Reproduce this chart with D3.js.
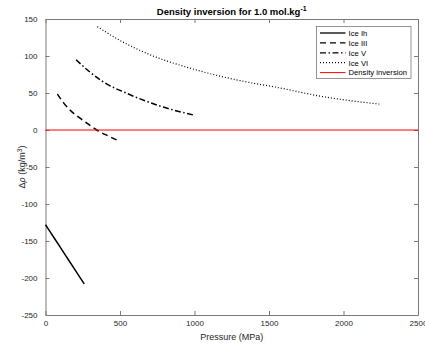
<!DOCTYPE html>
<html>
<head>
<meta charset="utf-8">
<script src="https://cdn.jsdelivr.net/npm/d3@7"></script>
<style>
  body { margin: 0; background: #fff; }
  svg { font-family: "Liberation Sans", Arial, sans-serif; }
  .axis path, .axis line { stroke: #7a7a7a; }
  .axis text { fill: #262626; font-size: 8px; }
</style>
</head>
<body>
<div id="chart"></div>
<script>
// values
const xTicks = [0, 500, 1000, 1500, 2000, 2500];
const yTicks = [-250, -200, -150, -100, -50, 0, 50, 100, 150];

const ihP = [0, 65, 130, 195, 260];
const ihRho = [-128, -148, -168, -188, -208];

const iiiP = [80, 120, 164, 232, 290, 343, 420, 495];
const iiiRho = [48.6, 37, 27, 16, 7.5, 0, -8, -15];

const vP = [205, 300, 388, 545, 768, 992];
const vRho = [95, 78, 65, 49.6, 32.4, 20.3];

const viP = [348, 500, 679, 1015, 1428, 1529, 1864, 2240];
const viRho = [139.7, 121, 103.6, 81, 62, 58.5, 45, 35];

const seriesNames = ['Ice Ih', 'Ice III', 'Ice V', 'Ice VI'];
const dashes = [null, '6,4', '6,2.5,1.5,2.5', '1,2'];

const width = 425, height = 345;
const margin = {top: 19, right: 7, bottom: 30, left: 45.5};
const w = width - margin.left - margin.right;
const h = height - margin.top - margin.bottom;

const svg = d3.select('#chart').append('svg')
  .attr('width', width)
  .attr('height', height);

const x = d3.scaleLinear().domain([0, 2500]).range([0, w]);
const y = d3.scaleLinear().domain([-250, 150]).range([h, 0]);

const g = svg.append('g')
  .attr('transform', `translate(${margin.left},${margin.top})`);

// plain labels, no thousands separator, ascii minus
const fmt = d => String(d);

// axes, ticks pointing inward like matlab box
g.append('g').attr('class', 'axis')
  .attr('transform', `translate(0,${h})`)
  .call(d3.axisBottom(x).tickValues(xTicks).tickFormat(fmt).tickSizeInner(-4).tickSizeOuter(0).tickPadding(5));
g.append('g').attr('class', 'axis')
  .call(d3.axisLeft(y).tickValues(yTicks).tickFormat(fmt).tickSizeInner(-4).tickSizeOuter(0).tickPadding(8));
g.append('g').attr('class', 'axis')
  .call(d3.axisTop(x).tickValues(xTicks).tickSizeInner(-4).tickSizeOuter(0).tickFormat(''));
g.append('g').attr('class', 'axis')
  .attr('transform', `translate(${w},0)`)
  .call(d3.axisRight(y).tickValues(yTicks).tickSizeInner(-4).tickSizeOuter(0).tickFormat(''));

const line = d3.line()
  .x(d => x(d[0]))
  .y(d => y(d[1]))
  .curve(d3.curveMonotoneX);

const series = [
  d3.zip(ihP, ihRho),
  d3.zip(iiiP, iiiRho),
  d3.zip(vP, vRho),
  d3.zip(viP, viRho)
];

series.forEach((pts, i) => {
  g.append('path')
    .datum(pts)
    .attr('fill', 'none')
    .attr('stroke', '#000')
    .attr('stroke-width', i === 3 ? 1.2 : 1.5)
    .attr('stroke-dasharray', dashes[i])
    .attr('d', line);
});

// density inversion line at zero
g.append('line')
  .attr('x1', x(0)).attr('x2', x(2500))
  .attr('y1', y(0)).attr('y2', y(0))
  .attr('stroke', '#ff0000')
  .attr('stroke-width', 1);

// title
const title = svg.append('text')
  .attr('x', margin.left + w / 2)
  .attr('y', 15)
  .attr('text-anchor', 'middle')
  .attr('font-size', 9.5)
  .attr('font-weight', 'bold')
  .attr('fill', '#000');
title.append('tspan').text('Density inversion for 1.0 mol.kg');
title.append('tspan').attr('dy', -4).attr('font-size', 7).text('-1');

// axis labels
svg.append('text')
  .attr('x', margin.left + w / 2)
  .attr('y', 340)
  .attr('text-anchor', 'middle')
  .attr('font-size', 9)
  .attr('fill', '#262626')
  .text('Pressure (MPa)');

const yl = svg.append('text')
  .attr('transform', `translate(25,${margin.top + h / 2}) rotate(-90)`)
  .attr('text-anchor', 'middle')
  .attr('font-size', 9)
  .attr('fill', '#262626');
yl.append('tspan').text('\u0394');
yl.append('tspan').attr('font-style', 'italic').text('\u03c1');
yl.append('tspan').text(' (kg/m');
yl.append('tspan').attr('dy', -3.5).attr('font-size', 6.5).text('3');
yl.append('tspan').attr('dy', 3.5).text(')');

// legend
const legend = svg.append('g').attr('transform', 'translate(316.5,26.5)');
legend.append('rect')
  .attr('width', 94.5).attr('height', 52)
  .attr('fill', '#fff')
  .attr('stroke', '#7a7a7a')
  .attr('stroke-width', 0.8);

const legendItems = seriesNames.map((n, i) => ({name: n, color: '#000', dash: dashes[i]}))
  .concat([{name: 'Density inversion', color: '#ff0000', dash: null}]);

legendItems.forEach((d, i) => {
  const yy = 6.5 + i * 9.9;
  legend.append('line')
    .attr('x1', 3.5).attr('x2', 29)
    .attr('y1', yy).attr('y2', yy)
    .attr('stroke', d.color)
    .attr('stroke-width', d.color === '#000' ? 1.3 : 1)
    .attr('stroke-dasharray', d.dash);
  legend.append('text')
    .attr('x', 32)
    .attr('y', yy + 2.8)
    .attr('font-size', 7.7)
    .attr('fill', '#000')
    .text(d.name);
});
</script>
</body>
</html>
